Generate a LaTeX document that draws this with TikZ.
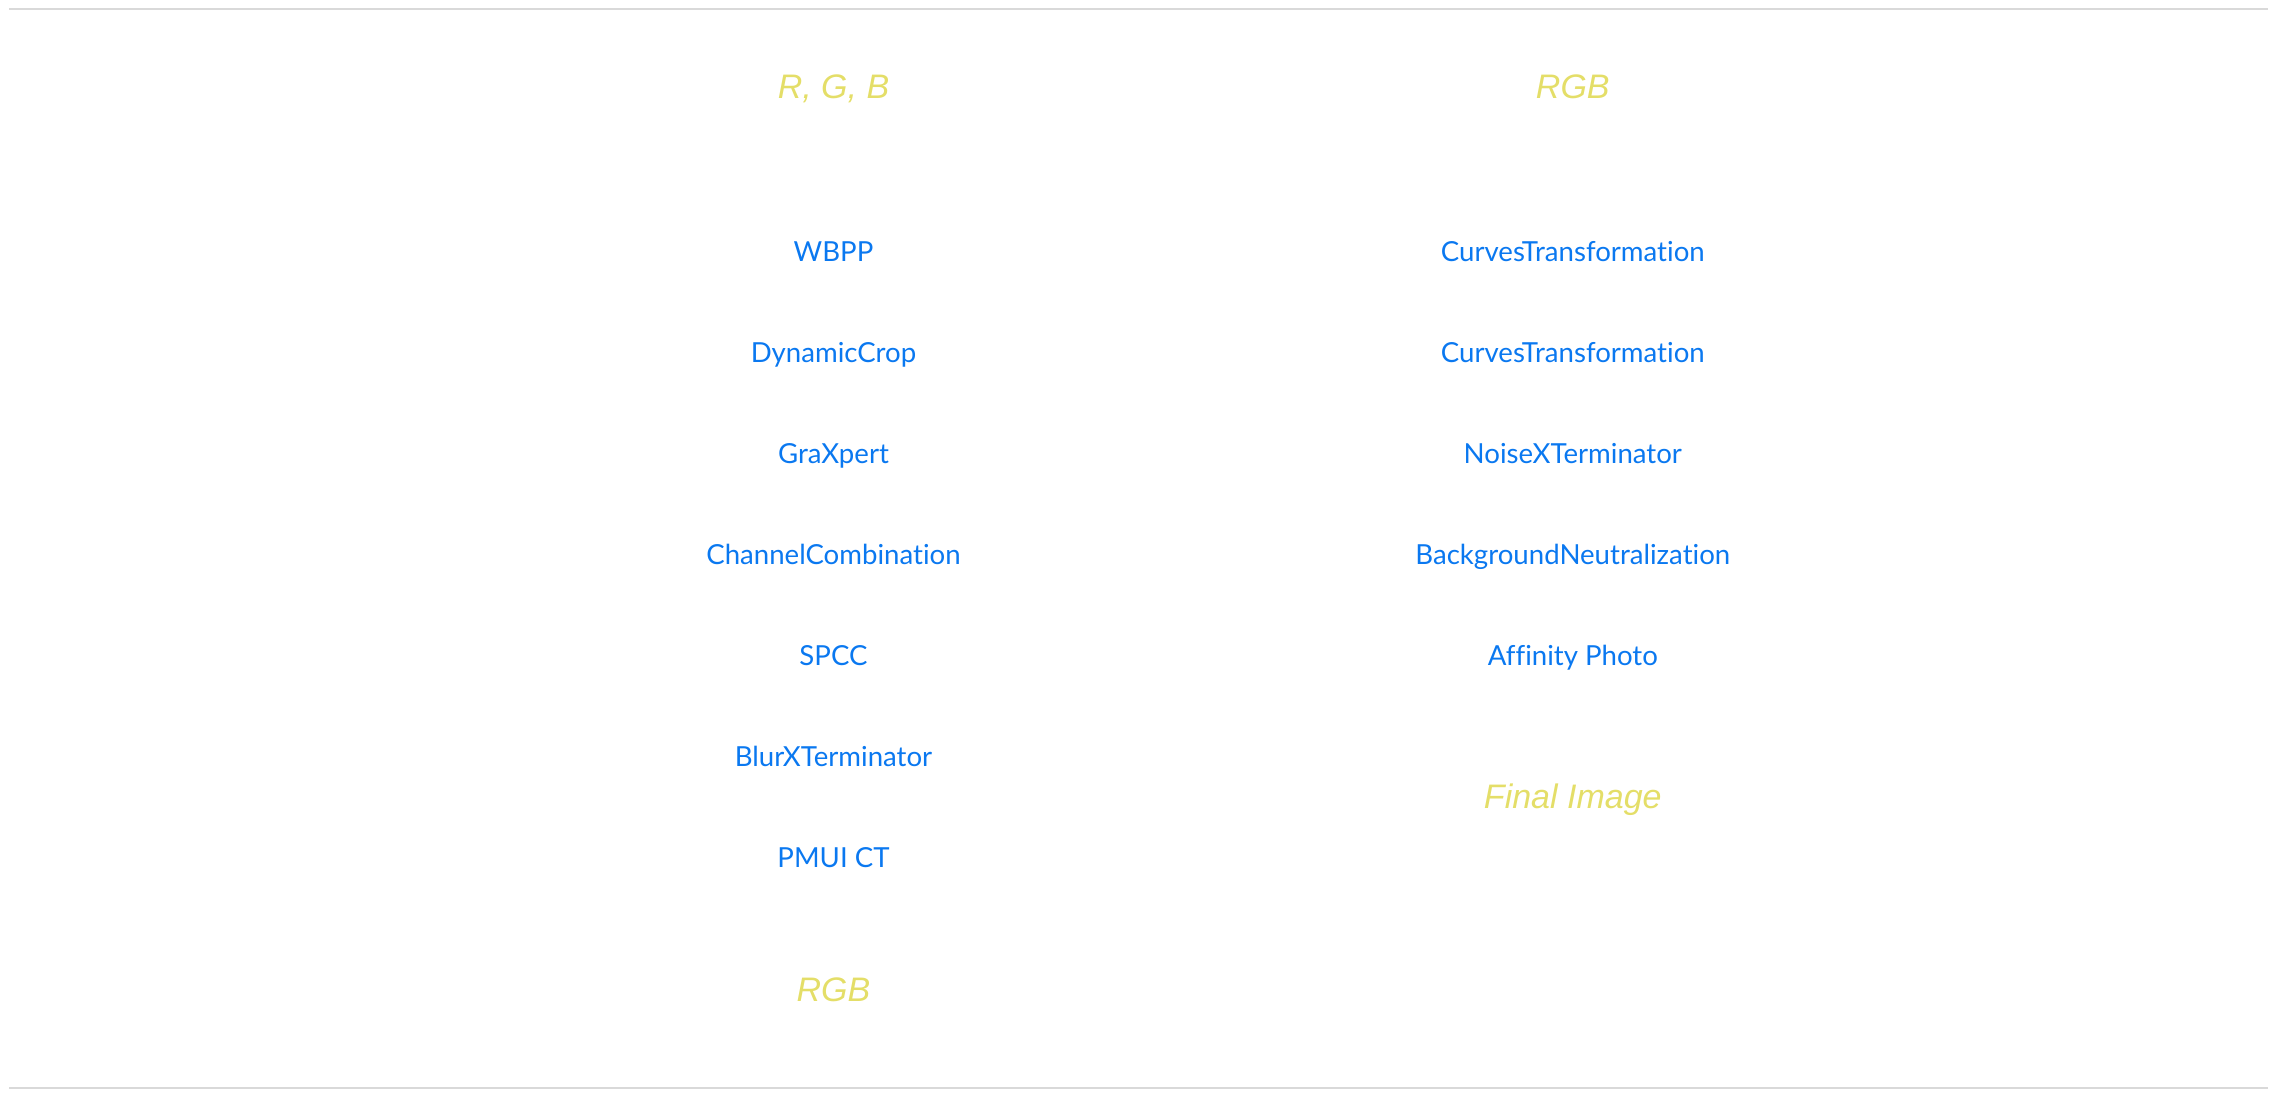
\documentclass[tikz,border=0pt]{standalone}
\usepackage{fontspec}
\setmainfont{Liberation Sans}
\newfontfamily\stepfont[Ligatures=NoCommon]{Lato}
\definecolor{stepblue}{HTML}{0A78F0}
\definecolor{labelyellow}{HTML}{E4DE68}
\definecolor{rulegray}{HTML}{D9D9D9}
\tikzset{
  stepbox/.style={anchor=base, inner sep=0pt, text=stepblue, font=\stepfont\fontsize{13.8}{16}\selectfont},
  stagelabel/.style={anchor=base, inner sep=0pt, text=labelyellow, font=\itshape\fontsize{17}{20}\selectfont},
  rulebar/.style={draw=rulegray, line width=1.2pt}
}
\begin{document}
\begin{tikzpicture}[x=0.5pt,y=-0.5pt]
\useasboundingbox (0,0) rectangle (2277,1100);
\coordinate (t1) at (9,9);
\coordinate (t2) at (2268,9);
\coordinate (b1) at (9,1088);
\coordinate (b2) at (2268,1088);
\draw[rulebar] (t1) -- (t2);
\draw[rulebar] (b1) -- (b2);
% left column
\node[stagelabel] (lin) at (833.5,98) {R, G, B};
\node[stepbox] (l1) at (833.5,261) {WBPP};
\node[stepbox] (l2) at (833.5,362) {DynamicCrop};
\node[stepbox] (l3) at (833.5,463) {GraXpert};
\node[stepbox] (l4) at (833.5,564) {ChannelCombination};
\node[stepbox] (l5) at (833.5,665) {SPCC};
\node[stepbox] (l6) at (833.5,766) {BlurXTerminator};
\node[stepbox] (l7) at (833.5,867) {PMUI CT};
\node[stagelabel] (lout) at (833.5,1001) {RGB};
% right column
\node[stagelabel] (rin) at (1572.8,98) {RGB};
\node[stepbox] (r1) at (1572.8,261) {CurvesTransformation};
\node[stepbox] (r2) at (1572.8,362) {CurvesTransformation};
\node[stepbox] (r3) at (1572.8,463) {NoiseXTerminator};
\node[stepbox] (r4) at (1572.8,564) {BackgroundNeutralization};
\node[stepbox] (r5) at (1572.8,665) {Affinity Photo};
\node[stagelabel] (rout) at (1572.8,808) {Final Image};
\end{tikzpicture}
\end{document}
